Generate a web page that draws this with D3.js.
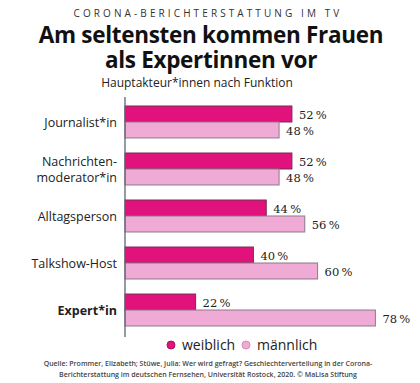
<!DOCTYPE html>
<html>
<head>
<meta charset="utf-8">
<script src="https://cdn.jsdelivr.net/npm/d3@7"></script>
<style>
  body { margin: 0; background: #fff; }
  svg { display: block; font-family: "Open Sans", sans-serif; }
</style>
</head>
<body>
<svg id="svg" width="420" height="383"></svg>
<script>
const categories = ["Journalist*in", "Nachrichten-moderator*in", "Alltagsperson", "Talkshow-Host", "Expert*in"];
const labelLines = [["Journalist*in"], ["Nachrichten-", "moderator*in"], ["Alltagsperson"], ["Talkshow-Host"], ["Expert*in"]];
const weiblich = [52, 52, 44, 40, 22];
const maennlich = [48, 48, 56, 60, 78];
const seriesNames = ["weiblich", "männlich"];
const colors = ["#e1127b", "#f0aad6"];

let container = d3.select("#svg");
const W = 420;

// header
container.append("text")
  .attr("x", W / 2 - 2).attr("y", 17)
  .attr("text-anchor", "middle")
  .style("font-size", "10px")
  .style("letter-spacing", "3.1px")
  .style("fill", "#333")
  .text("CORONA-BERICHTERSTATTUNG IM TV");
container.append("text")
  .attr("text-anchor", "middle")
  .style("font-size", "22.5px")
  .style("font-weight", "bold")
  .style("letter-spacing", "-0.3px")
  .style("fill", "#111")
  .selectAll("tspan")
  .data(["Am seltensten kommen Frauen", "als Expertinnen vor"])
  .enter()
  .append("tspan")
  .attr("x", W / 2 + 1)
  .attr("y", (d, i) => 43 + i * 25)
  .text((d) => d);
container.append("text")
  .attr("x", 197).attr("y", 87)
  .attr("text-anchor", "middle")
  .style("font-size", "12px")
  .style("fill", "#222")
  .text("Hauptakteur*innen nach Funktion");

// scales
let xScale = d3.scaleLinear().domain([0, 100]).range([125, 446]);
let yScale = d3.scaleBand().domain(categories).range([106, 326]).paddingInner(0.32);
let sub = d3.scaleBand().domain(seriesNames).range([0, yScale.bandwidth()]);

let rows = container.selectAll(".row")
  .data(categories)
  .enter()
  .append("g")
  .attr("class", "row")
  .attr("transform", (d) => "translate(0," + yScale(d) + ")");

rows.each(function (cat, i) {
  let g = d3.select(this);
  let vals = [weiblich[i], maennlich[i]];
  seriesNames.forEach((s, j) => {
    g.append("rect")
      .attr("x", xScale(0))
      .attr("y", sub(s))
      .attr("width", xScale(vals[j]) - xScale(0))
      .attr("height", sub.bandwidth())
      .attr("fill", colors[j])
      .attr("stroke", j === 0 ? "#7a2a56" : "#8c7a88")
      .attr("stroke-width", 1);
    g.append("text")
      .attr("x", xScale(vals[j]) + 7)
      .attr("y", sub(s) + sub.bandwidth() / 2 + 5)
      .style("font-family", "'DejaVu Serif', serif")
      .style("font-size", "11.5px")
      .style("fill", "#222")
      .text(vals[j] + "\u2009%");
  });
  let lines = labelLines[i];
  lines.forEach((l, k) => {
    g.append("text")
      .attr("x", 117)
      .attr("y", yScale.bandwidth() / 2 + 5 + (k - (lines.length - 1) / 2) * 16)
      .attr("text-anchor", "end")
      .style("font-size", "12.5px")
      .style("font-weight", cat === "Expert*in" ? "bold" : "normal")
      .style("fill", "#222")
      .text(l);
  });
});

// axis line
container.append("line")
  .attr("x1", xScale(0)).attr("x2", xScale(0))
  .attr("y1", 97).attr("y2", 337)
  .attr("stroke", "#5d6473")
  .attr("stroke-width", 1.3);

// legend
const legendX = [171, 246];
seriesNames.forEach((s, j) => {
  container.append("circle")
    .attr("cx", legendX[j]).attr("cy", 345)
    .attr("r", 4)
    .attr("fill", colors[j])
    .attr("stroke", j === 0 ? "#b0105f" : "#d68cba");
  container.append("text")
    .attr("x", legendX[j] + 11).attr("y", 350)
    .style("font-size", "14px")
    .style("fill", "#222")
    .text(s);
});

// source
["Quelle: Prommer, Elizabeth; Stüwe, Julia: Wer wird gefragt? Geschlechterverteilung in der Corona-",
 "Berichterstattung im deutschen Fernsehen, Universität Rostock, 2020. © MaLisa Stiftung"].forEach((t, i) => {
  container.append("text")
    .attr("x", 208).attr("y", 366 + i * 11)
    .attr("text-anchor", "middle")
    .style("font-size", "7px")
    .style("font-weight", "600")
    .style("fill", "#444")
    .text(t);
});
</script>
</body>
</html>
